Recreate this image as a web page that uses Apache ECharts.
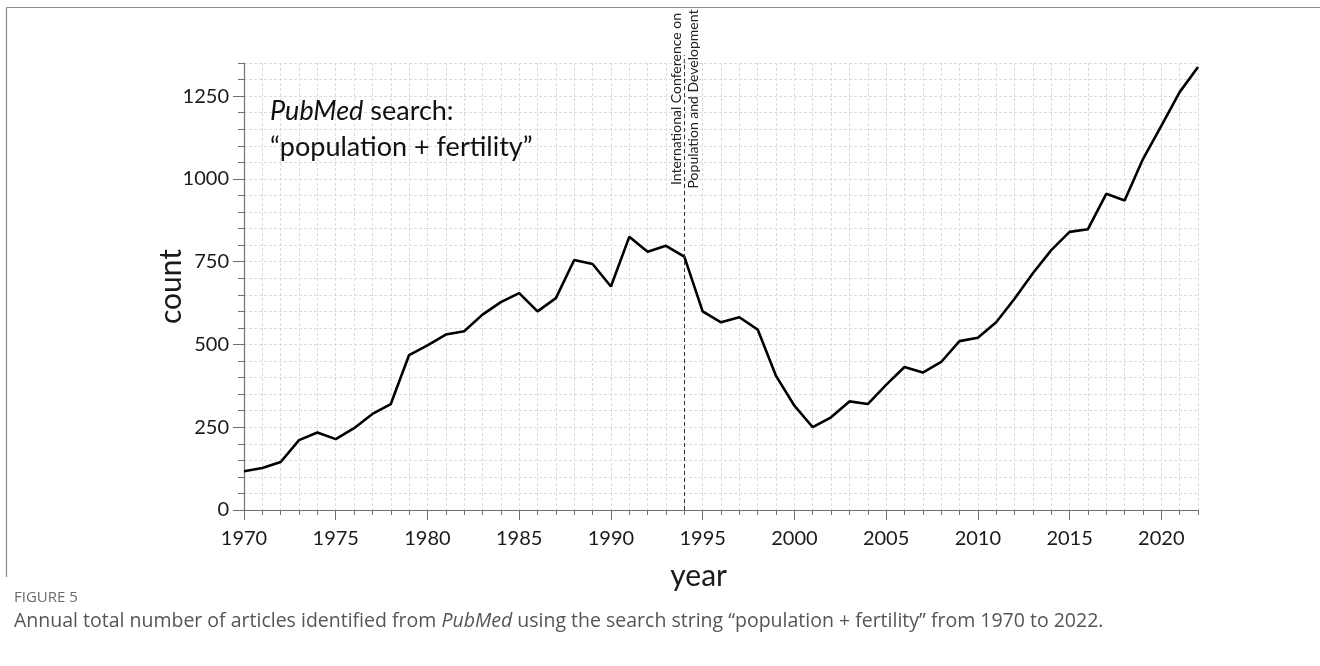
<!DOCTYPE html>
<html><head><meta charset="utf-8">
<script src="https://cdn.jsdelivr.net/npm/echarts@6/dist/echarts.min.js"></script>
<style>html,body{margin:0;padding:0;background:#fff}#c{width:1320px;height:666px}</style>
</head><body><div id="c"></div>
<script>
const years = [1970,1971,1972,1973,1974,1975,1976,1977,1978,1979,1980,1981,1982,1983,1984,1985,1986,1987,1988,1989,1990,1991,1992,1993,1994,1995,1996,1997,1998,1999,2000,2001,2002,2003,2004,2005,2006,2007,2008,2009,2010,2011,2012,2013,2014,2015,2016,2017,2018,2019,2020,2021,2022];
const counts = [117,127,145,211,234,214,247,290,320,468,497,530,540,590,628,655,600,640,755,743,675,825,780,798,765,600,567,582,545,405,315,250,280,328,320,378,432,415,447,510,520,567,638,715,785,840,848,955,935,1060,1160,1262,1338];
const xTickLabels = [1970,1975,1980,1985,1990,1995,2000,2005,2010,2015,2020];
const yTickLabels = [0,250,500,750,1000,1250];
const eventYear = 1994;
const eventLines = ['International Conference on','Population and Development'];
const xName = 'year';
const yName = 'count';
const figLabel = 'FIGURE 5';

const FONT = 'Lato';
const chart = echarts.init(document.getElementById('c'));
const gridStyle = {show:true, lineStyle:{color:'#dcdcdc', type:[3,2], width:1}};
const axisCol = '#707070';
const fmt = v => String(v);
chart.setOption({
  animation:false,
  grid:{left:244, right:122, top:63, bottom:156},
  xAxis:[
    {type:'value', min:1970, max:2022, interval:1,
     axisLine:{show:true, lineStyle:{color:axisCol, width:1.2}},
     axisTick:{show:true, length:5, lineStyle:{color:axisCol}},
     axisLabel:{show:false}, splitLine:gridStyle},
    {type:'value', min:1970, max:2022, interval:5, position:'bottom',
     axisLine:{show:false},
     axisTick:{show:true, length:10, customValues:xTickLabels, lineStyle:{color:axisCol}},
     axisLabel:{show:true, customValues:xTickLabels, formatter:fmt, fontSize:20, margin:19, color:'#1a1a1a', fontFamily:FONT},
     splitLine:{show:false}}
  ],
  yAxis:[
    {type:'value', min:0, max:1350, interval:50,
     axisLine:{show:true, lineStyle:{color:axisCol, width:1.2}},
     axisTick:{show:true, length:6, lineStyle:{color:axisCol}},
     axisLabel:{show:false}, splitLine:gridStyle},
    {type:'value', min:0, max:1350, interval:250, position:'left',
     axisLine:{show:false},
     axisTick:{show:true, length:11, customValues:yTickLabels, lineStyle:{color:axisCol}},
     axisLabel:{show:true, customValues:yTickLabels, formatter:fmt, fontSize:20, margin:15, color:'#1a1a1a', fontFamily:FONT},
     splitLine:{show:false},
     name:yName, nameLocation:'middle', nameGap:58, nameRotate:90, nameMoveOverlap:false,
     nameTextStyle:{fontSize:30, color:'#1a1a1a', fontFamily:FONT}}
  ],
  series:[{
    type:'line', xAxisIndex:0, yAxisIndex:0,
    data: years.map((y,i)=>[y,counts[i]]),
    showSymbol:false, symbol:'none',
    lineStyle:{color:'#000', width:2.6},
    markLine:{silent:true, symbol:'none', label:{show:false},
      lineStyle:{type:[4,3], color:'#333', width:1},
      data:[[{coord:[eventYear,0]},{coord:[eventYear,1350]}]]}
  }]
});

const p = chart.convertToPixel({gridIndex:0}, [eventYear, 1350]);
const py = chart.convertToPixel({gridIndex:0}, [1995, 0]);
chart.setOption({
  graphic:[
    {type:'line', shape:{x1:6.5,y1:7.5,x2:1320,y2:7.5}, style:{stroke:'#8a8a8a', lineWidth:1.2}, silent:true},
    {type:'line', shape:{x1:6.5,y1:7.5,x2:6.5,y2:577}, style:{stroke:'#8a8a8a', lineWidth:1.2}, silent:true},
    {type:'line', shape:{x1:p[0],y1:p[1],x2:p[0],y2:p[1]-8}, style:{stroke:'#333', lineWidth:1, lineDash:[4,3]}, silent:true},
    {type:'text', x:p[0]+1, y:p[1]+36, rotation:Math.PI/2,
     style:{text:eventLines.join('\n'), fontSize:14, lineHeight:17, fontFamily:FONT, fill:'#222', align:'center', verticalAlign:'middle'}},
    {type:'text', x:py[0]-4, y:py[1]+51,
     style:{text:xName, fontSize:30, fontFamily:FONT, fill:'#1a1a1a', align:'center', verticalAlign:'top'}},
    {type:'text', x:270, y:93,
     style:{text:'{i|PubMed}{n| search:}\n{n|“population + fertility”}', fontFamily:FONT, fontSize:27, fill:'#111',
       rich:{i:{fontStyle:'italic', fontSize:27, fontFamily:FONT, fill:'#111', lineHeight:36},
             n:{fontSize:27, fontFamily:FONT, fill:'#111', lineHeight:36}}}},
    {type:'text', x:14, y:590,
     style:{text:figLabel, fontSize:15, fontFamily:'Open Sans', fill:'#6a6a6a'}},
    {type:'text', x:14, y:611,
     style:{text:'{n|Annual total number of articles identified from }{i|PubMed}{n| using the search string “population + fertility” from 1970 to 2022.}',
       fontFamily:'Open Sans', fontSize:19.5, fill:'#555',
       rich:{n:{fontSize:19.5, fontFamily:'Open Sans', fill:'#555'}, i:{fontSize:19.5, fontFamily:'Open Sans', fill:'#555', fontStyle:'italic'}}}}
  ]
});
</script></body></html>
